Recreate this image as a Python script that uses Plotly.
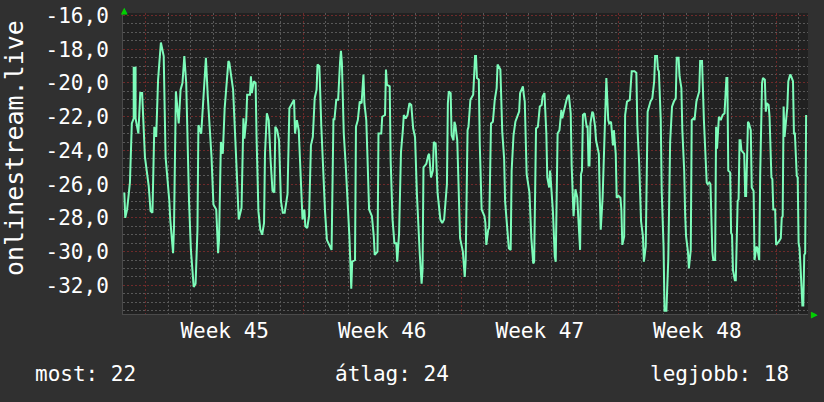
import plotly.graph_objects as go

# time in hours from the start (Monday 00:00) of week 45; values of the series
hours = [
    -23, -22, -20, -17, -15, -13, -13, -11, -11, -8, -6, -4, -1,
    3, 5, 7, 9, 11, 13, 16, 19, 21, 25, 26, 29, 30, 32, 35, 37, 39, 41, 43, 46, 48, 51, 53, 55, 56, 59,
    62, 64, 66, 70, 72, 75, 77, 78, 80, 82, 84, 88, 89, 93, 97, 99, 102, 104, 105, 107, 108, 111, 112,
    113, 115, 117, 118, 120, 122, 124, 126, 127, 129, 131, 133, 135, 137, 138, 140, 142, 144, 146, 148,
    151, 153, 155, 158, 159, 161, 163, 166, 167, 169, 170, 172, 174, 176, 178, 180, 182, 183, 185, 187,
    189, 191, 193, 196, 198, 200, 201, 203, 205, 207, 208, 209, 211, 213, 215, 217, 219, 220,
    223, 224, 226, 228, 230, 232, 233, 235, 236, 238, 241, 243, 244, 247, 248, 251, 252, 255, 256, 257,
    260, 261, 263, 265, 267, 268, 270, 272, 274, 275, 277, 279, 281, 283, 285, 287, 289, 290, 292, 294,
    295, 296, 299, 301, 302, 304, 306, 307, 309, 311, 313, 314, 316, 318, 321, 322, 323, 325, 326, 328,
    329, 330, 332, 333, 335, 338, 340, 341, 343, 344, 346, 349, 351, 352, 353, 355, 356, 358, 361, 362,
    363, 365, 366, 368, 370, 372, 374, 375, 378, 380, 382, 383, 385, 387, 389, 390, 392, 394, 396, 398,
    399, 402, 403, 404, 406, 408, 409, 411, 413, 414, 416, 418, 420, 422, 423, 425, 427, 428, 430, 431,
    433, 434, 436, 437, 439, 441, 443, 444, 446,
    449, 451, 453, 454, 456, 458, 460, 461, 463, 464, 465, 466, 468, 470, 471, 472, 473, 474, 476, 477,
    479, 480, 482, 483, 484, 485, 487, 489, 490, 491, 493, 494, 496, 498, 499, 501, 502, 504, 506, 507,
    508, 510, 511, 513, 516, 518, 521, 523, 524, 526, 528, 530, 531, 533, 535, 536, 538, 540, 542, 543,
    545, 546, 547, 549, 550, 552, 553, 555, 557, 559, 561, 563, 565, 566, 568, 569, 571, 572, 574, 575,
    576, 578, 579, 581, 582, 584, 585, 587, 589, 590, 591, 593, 594, 595, 598, 599, 601, 602, 604, 605,
    607, 608, 609, 611, 613, 615, 617, 619, 620, 621, 623, 624, 625, 626, 628, 629, 631, 632, 633, 634,
    635, 638, 639, 640, 642, 643, 645, 646, 648, 649, 651, 652, 654, 655, 657, 658, 660, 661, 662, 664,
    665, 667, 668, 669, 671, 672,
    675, 677, 678, 679, 680, 681, 683, 684, 685, 687, 688, 690, 691, 692, 694, 695, 696, 697, 699, 700,
    701, 702, 703, 704,
]
values = [
    -26.5, -28.0, -27.5, -25.9, -22.4, -22.1, -19.1, -19.1, -22.1, -23.0, -20.6, -20.6, -24.4,
    -26.1, -27.6, -27.7, -22.6, -23.2, -19.8, -17.6, -18.4, -24.4, -27.0, -28.1, -30.1, -28.5, -20.5, -22.4, -20.4, -20.0, -18.4, -20.0, -27.0, -29.9, -32.1, -31.9, -28.7, -22.5, -23.0,
    -20.4, -18.5, -20.8, -24.4, -27.2, -27.5, -30.1, -29.3, -23.5, -24.2, -21.5, -18.7, -18.8, -20.4, -25.4, -28.1, -27.4, -22.1, -23.3, -22.2, -20.7, -20.7, -19.6,
    -20.6, -19.9, -20.0, -23.2, -27.6, -28.7, -29.0, -28.3, -24.2, -21.8, -22.2, -24.6, -26.4, -26.5, -22.6, -22.8, -23.4, -27.0, -27.7, -27.7,
    -26.6, -21.5, -21.3, -21.0, -23.0, -22.2, -22.8, -26.7, -28.1, -27.5, -28.5, -28.6, -27.9, -23.7, -23.2, -20.9, -20.4, -18.9, -19.0, -22.5,
    -25.6, -27.6, -29.3, -29.7, -29.9, -22.1, -22.2, -21.0, -21.0, -18.8, -18.1, -18.8, -23.0, -24.8, -26.8, -29.1, -32.2, -30.6,
    -30.5, -22.6, -22.2, -21.1, -21.2, -19.5, -21.2, -22.2, -23.9, -27.5, -27.9, -29.1, -30.2, -30.0, -23.0, -23.0, -22.0, -21.9, -19.2, -20.1,
    -20.2, -24.6, -28.1, -29.5, -29.5, -30.6, -28.9, -24.1, -22.8, -21.9, -22.1, -21.9, -21.2, -21.3, -22.7, -23.2, -26.6, -27.9, -30.1, -31.9,
    -31.1, -25.0, -24.8, -24.3, -24.2, -25.6, -25.2, -23.5, -23.6, -26.5, -27.5, -28.1, -28.3, -28.1, -26.0, -21.2, -20.5, -20.6, -23.1, -23.4,
    -22.3, -22.5, -23.4, -26.0, -29.2, -30.0, -31.5, -30.5, -22.8, -22.6, -21.0, -20.7, -18.4, -18.4, -19.7, -19.8, -23.6, -27.5, -27.9, -28.3,
    -29.6, -28.7, -28.6, -22.4, -22.3, -21.0, -20.3, -18.9, -19.2, -22.9, -24.5, -27.0, -28.7, -29.8, -29.9, -25.2, -23.1, -22.3, -22.0, -21.7,
    -20.6, -20.2, -20.7, -21.1, -25.4, -26.4, -26.5, -29.2, -30.7, -30.6, -22.7, -22.6, -21.4, -21.3, -20.8, -20.6, -23.0, -25.6, -26.2, -25.2,
    -27.1, -27.6, -30.3, -30.6, -23.0, -22.8, -21.6, -22.1, -21.6,
    -20.9, -20.7, -21.8, -24.9, -27.9, -26.3, -26.8, -27.9, -29.9, -25.4, -25.2, -21.9, -21.8, -22.6, -22.6, -24.9, -24.9, -22.4, -21.7, -21.8,
    -22.6, -23.4, -24.1, -24.2, -26.8, -28.7, -26.8, -22.6, -21.3, -19.7, -22.2, -22.4, -22.3, -23.7, -22.8, -24.2, -26.8, -26.7, -26.8, -27.5,
    -29.6, -29.1, -21.9, -21.1, -21.0, -19.3, -19.3, -19.4, -22.5, -24.8, -28.2, -29.1, -30.6, -29.7, -21.7, -21.5, -21.1, -20.9, -19.9, -18.4,
    -18.4, -19.2, -19.3, -22.2, -26.4, -29.7, -33.5, -33.5, -30.5, -23.5, -21.4, -21.1, -20.9, -18.5, -18.5, -19.6, -20.3, -22.8, -25.2, -27.8,
    -29.1, -30.0, -31.0, -29.9, -22.2, -22.1, -22.2, -21.1, -20.6, -20.5, -18.7, -18.7, -20.4, -22.2, -25.9, -26.0, -25.9, -26.0, -30.0, -30.5,
    -30.5, -22.6, -23.9, -22.0, -22.2, -21.9, -21.8, -19.7, -19.7, -25.2, -25.3, -28.9, -29.0, -31.1, -31.7, -31.7, -27.0, -26.9, -23.4, -23.4,
    -24.0, -24.2, -26.7, -26.7, -22.3, -22.4, -22.8, -26.2, -26.4, -30.5, -29.7, -29.8, -30.5, -25.5, -20.0, -19.7, -19.8, -21.7, -21.2, -21.3,
    -22.0, -25.6, -25.7, -27.5, -27.5, -29.6,
    -29.4, -29.2, -28.0, -27.9, -21.4, -23.2, -22.0, -21.4, -19.9, -19.5, -19.6, -19.9, -23.0, -23.0, -25.5, -25.6, -29.5, -29.8, -32.0, -33.2,
    -33.2, -30.2, -30.1, -21.9,
]

y_tick_vals = [-16, -18, -20, -22, -24, -26, -28, -30, -32]
y_tick_text = ["-16,0", "-18,0", "-20,0", "-22,0", "-24,0", "-26,0", "-28,0", "-30,0", "-32,0"]
week_label_pos = [84, 252, 420, 588]
week_labels = ["Week 45", "Week 46", "Week 47", "Week 48"]
x_range = [-24.4, 706]
y_range = [-33.7, -15.85]
series_name = "onlinestream.live"
legend_items = [("most", "22"), ("átlag", "24"), ("legjobb", "18")]

FONT = "DejaVu Sans Mono"
BG = "#303030"
PLOT_BG = "#212121"
TXT = "#ffffff"
MINOR = "#585858"
MAJOR = "#6e2a2a"

fig = go.Figure()
fig.add_trace(go.Scatter(
    x=hours, y=values, mode="lines",
    line=dict(color="#7dfcba", width=2),
    showlegend=False, hoverinfo="skip",
))
fig.add_trace(go.Scatter(
    x=week_label_pos, y=[None] * len(week_label_pos), xaxis="x2", yaxis="y",
    mode="markers", showlegend=False, hoverinfo="skip",
))

ML, MR, MT, MB = 123, 16, 13, 88
fig.update_layout(
    width=824, height=402,
    margin=dict(l=ML, r=MR, t=MT, b=MB, pad=0, autoexpand=False),
    paper_bgcolor=BG, plot_bgcolor=PLOT_BG,
    font=dict(family=FONT, size=21, color=TXT),
    hovermode=False,
    xaxis=dict(
        range=x_range, tick0=0, dtick=168, showticklabels=False, ticks="", automargin=False,
        showgrid=True, gridcolor=MAJOR, griddash="2px,2px", gridwidth=1,
        minor=dict(tick0=0, dtick=24, showgrid=True, gridcolor=MINOR, griddash="2px,2px", gridwidth=1),
        zeroline=False, showline=True, linecolor="#4a4a4a", linewidth=1,
    ),
    xaxis2=dict(
        range=x_range, overlaying="x", side="bottom", tickmode="array", automargin=False,
        tickvals=week_label_pos, ticktext=week_labels, showgrid=False, zeroline=False,
        ticks="", ticklabelstandoff=2, tickfont=dict(family=FONT, size=21, color=TXT),
    ),
    yaxis=dict(
        range=y_range, tickmode="array", tickvals=y_tick_vals, ticktext=y_tick_text, automargin=False,
        showgrid=True, gridcolor=MAJOR, griddash="2px,2px", gridwidth=1,
        minor=dict(tick0=-16, dtick=0.5, showgrid=True, gridcolor=MINOR, griddash="2px,2px", gridwidth=1),
        zeroline=False, showline=True, linecolor="#4a4a4a", linewidth=1,
        ticks="", ticklabelstandoff=9, tickfont=dict(family=FONT, size=21, color=TXT),
    ),
)

W = 824 - ML - MR
H = 402 - MT - MB


def px(x):
    return (x - ML) / W


def py(y):
    return (402 - MB - y) / H


anns = [
    dict(text=series_name, x=px(14), y=py(148), textangle=-90, font=dict(size=25)),
    dict(text=f"{legend_items[0][0]}: {legend_items[0][1]}", x=px(33), y=py(374), xanchor="left"),
    dict(text=f"{legend_items[1][0]}: {legend_items[1][1]}", x=px(392), y=py(374), xanchor="center"),
    dict(text=f"{legend_items[2][0]}: {legend_items[2][1]}", x=px(791), y=py(374), xanchor="right"),
    dict(text="▲", x=px(124.5), y=py(10), font=dict(size=11, color="#00d000")),
    dict(text="▶", x=px(814), y=py(314), font=dict(size=11, color="#00d000")),
]
for a in anns:
    base = dict(xref="paper", yref="paper", showarrow=False, xanchor="center", yanchor="middle")
    base.update(a)
    f = dict(family=FONT, size=21, color=TXT)
    f.update(a.get("font", {}))
    base["font"] = f
    fig.add_annotation(**base)

fig.write_html(
    "out.html",
    config={"displayModeBar": False, "staticPlot": True},
    post_script="document.body.style.margin='0px';document.body.style.background='" + BG + "';",
)
